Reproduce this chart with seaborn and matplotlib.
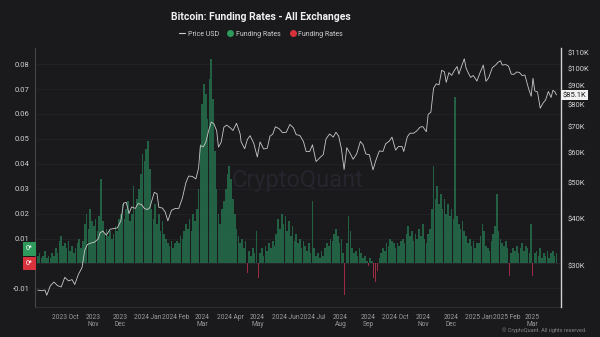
import numpy as np
import pandas as pd
import matplotlib
matplotlib.use("Agg")
import matplotlib.pyplot as plt
import matplotlib.transforms as mtransforms
from matplotlib.lines import Line2D
from matplotlib.ticker import NullLocator, FixedLocator
import seaborn as sns

# ---------------- data ----------------
title = "Bitcoin: Funding Rates - All Exchanges"

price_dates = [
    "2023-09-01", "2023-09-05", "2023-09-09", "2023-09-11", "2023-09-15", "2023-09-19", "2023-09-23", "2023-09-27",
    "2023-10-01", "2023-10-05", "2023-10-09", "2023-10-12", "2023-10-16", "2023-10-20", "2023-10-23", "2023-10-26",
    "2023-10-30", "2023-11-03", "2023-11-07", "2023-11-09", "2023-11-12", "2023-11-16", "2023-11-20", "2023-11-24",
    "2023-11-28", "2023-12-02", "2023-12-05", "2023-12-08", "2023-12-11", "2023-12-14", "2023-12-18", "2023-12-21",
    "2023-12-25", "2023-12-28", "2023-12-31", "2024-01-03", "2024-01-08", "2024-01-11", "2024-01-13", "2024-01-17",
    "2024-01-20", "2024-01-23", "2024-01-27", "2024-01-31", "2024-02-04", "2024-02-08", "2024-02-12", "2024-02-15",
    "2024-02-19", "2024-02-23", "2024-02-26", "2024-02-28", "2024-03-02", "2024-03-05", "2024-03-08", "2024-03-11",
    "2024-03-14", "2024-03-17", "2024-03-19", "2024-03-22", "2024-03-25", "2024-03-28", "2024-04-01", "2024-04-04",
    "2024-04-08", "2024-04-12", "2024-04-13", "2024-04-17", "2024-04-20", "2024-04-23", "2024-04-27", "2024-05-01",
    "2024-05-04", "2024-05-08", "2024-05-12", "2024-05-15", "2024-05-18", "2024-05-21", "2024-05-25", "2024-05-29",
    "2024-06-02", "2024-06-06", "2024-06-10", "2024-06-13", "2024-06-17", "2024-06-21", "2024-06-24", "2024-06-28",
    "2024-07-01", "2024-07-05", "2024-07-09", "2024-07-13", "2024-07-16", "2024-07-20", "2024-07-24", "2024-07-27",
    "2024-07-30", "2024-08-02", "2024-08-05", "2024-08-08", "2024-08-12", "2024-08-15", "2024-08-19", "2024-08-23",
    "2024-08-26", "2024-08-29", "2024-09-02", "2024-09-06", "2024-09-09", "2024-09-13", "2024-09-17", "2024-09-20",
    "2024-09-24", "2024-09-27", "2024-10-01", "2024-10-04", "2024-10-08", "2024-10-10", "2024-10-14", "2024-10-17",
    "2024-10-21", "2024-10-24", "2024-10-28", "2024-10-31", "2024-11-04", "2024-11-06", "2024-11-09", "2024-11-12",
    "2024-11-15", "2024-11-18", "2024-11-21", "2024-11-24", "2024-11-26", "2024-11-29", "2024-12-02", "2024-12-05",
    "2024-12-08", "2024-12-10", "2024-12-13", "2024-12-16", "2024-12-18", "2024-12-20", "2024-12-23", "2024-12-26",
    "2024-12-30", "2025-01-02", "2025-01-06", "2025-01-09", "2025-01-12", "2025-01-16", "2025-01-20", "2025-01-22",
    "2025-01-25", "2025-01-27", "2025-01-31", "2025-02-03", "2025-02-06", "2025-02-09", "2025-02-12", "2025-02-15",
    "2025-02-18", "2025-02-21", "2025-02-25", "2025-02-28", "2025-03-02", "2025-03-04", "2025-03-07", "2025-03-10",
    "2025-03-13", "2025-03-16", "2025-03-19", "2025-03-22", "2025-03-24", "2025-03-26", "2025-03-28",
]
price_k = [
    25.9, 25.8, 25.9, 25.1, 26.6, 27.2, 26.6, 26.4,
    28.0, 27.4, 27.6, 26.8, 28.5, 29.7, 33.0, 34.2,
    34.5, 34.7, 35.4, 36.7, 37.1, 36.2, 37.5, 37.7,
    37.8, 39.5, 44.0, 44.2, 41.3, 43.0, 42.6, 43.9,
    43.6, 42.6, 42.3, 42.8, 47.0, 46.6, 42.9, 42.7,
    41.7, 39.5, 42.1, 42.6, 42.6, 45.3, 49.9, 51.9,
    51.8, 51.0, 54.5, 62.5, 62.0, 63.8, 68.3, 72.1,
    71.4, 68.4, 61.9, 63.8, 69.9, 70.8, 69.7, 68.5,
    71.6, 67.1, 64.0, 61.3, 64.9, 66.4, 63.4, 58.3,
    63.9, 61.2, 61.5, 66.2, 67.0, 70.1, 69.3, 67.6,
    67.8, 71.1, 69.6, 66.8, 66.5, 64.1, 60.3, 60.3,
    62.8, 56.7, 58.0, 59.2, 65.1, 67.1, 65.8, 67.8,
    66.2, 61.4, 54.0, 61.7, 59.4, 57.5, 59.5, 64.1,
    62.8, 59.4, 59.1, 53.9, 57.0, 60.5, 60.3, 63.2,
    64.2, 65.8, 60.8, 62.1, 62.2, 60.3, 66.0, 67.4,
    67.4, 68.2, 69.9, 70.2, 68.0, 75.6, 76.6, 88.7,
    91.1, 90.5, 98.9, 98.0, 91.9, 97.5, 95.9, 98.8,
    101.2, 96.6, 101.4, 106.1, 100.2, 97.8, 94.7, 95.8,
    92.6, 96.9, 102.1, 92.5, 94.5, 100.5, 102.3, 103.7,
    104.8, 102.1, 102.4, 101.4, 96.6, 96.5, 97.9, 97.6,
    95.8, 96.1, 88.7, 84.4, 94.2, 87.2, 86.7, 78.5,
    80.9, 82.6, 86.9, 83.8, 87.5, 86.9, 85.1,
]

funding_start = "2023-09-01"   # one value every two days
funding_rates = [
    # 2023 Sep
    0.003, 0.004, 0.002, 0.003, 0.005, 0.002, 0.003, 0.002, 0.004, 0.003, 0.006, 0.004, 0.009, 0.011, 0.007,
    # 2023 Oct
    0.008, 0.006, 0.009, 0.005, 0.007, 0.004, 0.006, 0.008, 0.010, 0.006, 0.009, 0.016, 0.020, 0.014, 0.022, 0.017,
    # 2023 Nov
    0.015, 0.018, 0.013, 0.019, 0.034, 0.017, 0.012, 0.014, 0.011, 0.013, 0.010, 0.012, 0.015, 0.013, 0.018,
    # 2023 Dec
    0.020, 0.024, 0.018, 0.022, 0.025, 0.017, 0.020, 0.031, 0.022, 0.026, 0.030, 0.036, 0.044, 0.041, 0.046,
    # 2024 Jan
    0.049, 0.038, 0.022, 0.018, 0.024, 0.016, 0.020, 0.013, 0.017, 0.012, 0.010, 0.008, 0.007, 0.009, 0.006, 0.008,
    # 2024 Feb
    0.009, 0.008, 0.011, 0.010, 0.013, 0.016, 0.014, 0.018, 0.013, 0.020, 0.017, 0.022, 0.030, 0.048,
    # 2024 Mar
    0.064, 0.072, 0.068, 0.058, 0.074, 0.082, 0.066, 0.045, 0.030, 0.020, 0.016, 0.022, 0.025, 0.030, 0.036, 0.039,
    # 2024 Apr
    0.034, 0.026, 0.020, 0.014, 0.011, 0.008, 0.010, 0.006, 0.009, -0.004, 0.005, 0.003, 0.006, 0.004, 0.013,
    # 2024 May
    -0.006, 0.004, 0.006, 0.003, 0.007, 0.005, 0.008, 0.006, 0.009, 0.007, 0.012, 0.018, 0.014, 0.020, 0.016,
    # 2024 Jun
    0.019, 0.013, 0.017, 0.011, 0.015, 0.009, 0.012, 0.008, 0.010, 0.006, 0.009, 0.007, 0.005, 0.008, 0.004,
    # 2024 Jul
    0.025, 0.006, 0.003, 0.004, 0.002, 0.005, 0.003, 0.006, 0.008, 0.007, 0.010, 0.009, 0.012, 0.014, 0.011, 0.008,
    # 2024 Aug
    0.010, 0.004, -0.0125, 0.008, 0.019, 0.013, 0.006, 0.004, 0.005, 0.003, 0.006, 0.004, 0.002, 0.003, 0.001,
    # 2024 Sep
    -0.001, 0.002, 0.001, -0.006, -0.0075, -0.003, 0.002, 0.004, 0.006, 0.005, 0.008, 0.007, 0.010, 0.009, 0.008,
    # 2024 Oct
    0.006, 0.008, 0.007, 0.009, 0.010, 0.008, 0.012, 0.015, 0.011, 0.013, 0.009, 0.012, 0.010, 0.014, 0.011, 0.016,
    # 2024 Nov
    0.010, 0.008, 0.012, 0.014, 0.022, 0.039, 0.026, 0.031, 0.024, 0.028, 0.022, 0.026, 0.020, 0.024, 0.019,
    # 2024 Dec
    0.022, 0.018, 0.067, 0.019, 0.016, 0.014, 0.017, 0.013, 0.011, 0.008, 0.010, 0.007, 0.009, 0.006, 0.008,
    # 2025 Jan
    0.008, 0.011, 0.016, 0.013, 0.007, 0.006, 0.005, 0.009, 0.012, 0.015, 0.028, 0.013, 0.010, 0.008, 0.007, 0.009,
    # 2025 Feb
    0.006, -0.005, 0.004, 0.006, 0.005, 0.007, 0.004, 0.006, 0.008, 0.005, 0.007, 0.006, 0.004, 0.016,
    # 2025 Mar
    -0.005, 0.004, 0.005, 0.003, 0.006, 0.002, 0.004, 0.003, 0.005, 0.002, 0.004, 0.005, 0.003, 0.004,
]

left_ticks = [-0.01, 0.01, 0.02, 0.03, 0.04, 0.05, 0.06, 0.07, 0.08]
left_tick_labels = ["-0.01", "0.01", "0.02", "0.03", "0.04", "0.05", "0.06", "0.07", "0.08"]
right_ticks_k = [30, 40, 50, 60, 70, 80, 90, 100, 110]
right_tick_labels = ["$30K", "$40K", "$50K", "$60K", "$70K", "$80K", "$90K", "$100K", "$110K"]
x_tick_dates = ["2023-10-01", "2023-11-01", "2023-12-01", "2024-01-01", "2024-02-01", "2024-03-01",
                "2024-04-01", "2024-05-01", "2024-06-01", "2024-07-01", "2024-08-01", "2024-09-01",
                "2024-10-01", "2024-11-01", "2024-12-01", "2025-01-01", "2025-02-01", "2025-03-01"]
x_tick_labels = ["2023 Oct", "2023\nNov", "2023\nDec", "2024 Jan", "2024 Feb", "2024\nMar",
                 "2024 Apr", "2024\nMay", "2024 Jun", "2024 Jul", "2024\nAug", "2024\nSep",
                 "2024 Oct", "2024\nNov", "2024\nDec", "2025 Jan", "2025 Feb", "2025\nMar"]
last_price_label = "$85.1K"

# ---------------- style ----------------
BG = "#1a1a1c"
GREEN = "#256a49"
RED = "#9c2b43"
sns.set_theme(style="dark", rc={"axes.facecolor": BG, "figure.facecolor": BG})
plt.rcParams["font.family"] = ["Roboto", "DejaVu Sans"]

fig = plt.figure(figsize=(6, 3.37), dpi=100, facecolor=BG)
ax = fig.add_axes([35 / 600, 1 - 307 / 337, (561 - 35) / 600, (307 - 48) / 337])
ax.set_facecolor(BG)

fund = pd.DataFrame({
    "date": pd.date_range(funding_start, periods=len(funding_rates), freq="2D"),
    "rate": funding_rates,
})
pos = fund[fund.rate >= 0]
neg = fund[fund.rate < 0]
ax.bar(pos.date, pos.rate, width=1.8, color=GREEN, linewidth=0, alpha=0.9, zorder=2)
ax.bar(neg.date, neg.rate, width=1.1, color=RED, linewidth=0, zorder=2)
ax.set_ylim(-0.0175, 0.0865)
ax.set_xlim(pd.Timestamp("2023-08-29"), pd.Timestamp("2025-04-02"))

ax.yaxis.set_major_locator(FixedLocator(left_ticks))
ax.set_yticklabels(left_tick_labels)
ax.tick_params(axis="y", length=0, pad=4, labelsize=5.5, labelcolor="#cfcfcf")
ax.set_xticks(pd.to_datetime(x_tick_dates))
ax.set_xticklabels(x_tick_labels, linespacing=1.0)
ax.tick_params(axis="x", length=2, width=0.5, color="#3a3a3e", pad=3, labelsize=4.8, labelcolor="#9a9a9a")
ax.grid(False)
for t in left_ticks + [0.0]:
    ax.axhline(t, color="#222227", lw=0.6, zorder=0)
ax.axhline(0, color="#2a2a2e", lw=0.5, zorder=1)
for s in ["top", "right"]:
    ax.spines[s].set_visible(False)
ax.spines["left"].set_color("#46464a")
ax.spines["left"].set_linewidth(0.8)
ax.spines["bottom"].set_color("#333337")
ax.spines["bottom"].set_linewidth(0.6)
ax.set_xlabel("")
ax.set_ylabel("")

ax.text(0.5, 0.49, "CryptoQuant", transform=ax.transAxes, ha="center", va="center",
        fontsize=17, color="#25252d", zorder=0)

# price line on log right axis
ax2 = ax.twinx()
price_df = pd.DataFrame({"date": pd.to_datetime(price_dates), "price": np.array(price_k) * 1000})
sns.lineplot(data=price_df, x="date", y="price", ax=ax2, color="#c9c9c9", linewidth=0.6)
ax2.set_yscale("log")
ax2.set_ylim(23360, 113300)
ax2.yaxis.set_major_locator(FixedLocator([v * 1000 for v in right_ticks_k]))
ax2.yaxis.set_minor_locator(NullLocator())
ax2.set_yticklabels(right_tick_labels)
ax2.tick_params(axis="y", length=0, pad=5, labelsize=5.5, labelcolor="#d0d0d0")
ax2.set_xlabel("")
ax2.set_ylabel("")
ax2.grid(False)
for s in ["top", "left", "bottom"]:
    ax2.spines[s].set_visible(False)
ax2.spines["right"].set_color("#d0d0d0")
ax2.spines["right"].set_linewidth(1.0)
ax2.set_xlim(pd.Timestamp("2023-08-29"), pd.Timestamp("2025-04-02"))

# current value tags
tr2 = mtransforms.blended_transform_factory(ax2.transAxes, ax2.transData)
ax2.text(1.003, price_k[-1] * 1000, last_price_label, transform=tr2, ha="left", va="center",
         fontsize=5.5, color="#1a1a1c",
         bbox=dict(boxstyle="square,pad=0.25", fc="#f2f2f2", ec="none"), zorder=5)
tr1 = mtransforms.blended_transform_factory(ax.transAxes, ax.transData)
ax.text(-0.004, 0.0058, "0*", transform=tr1, ha="right", va="center", fontsize=5, color="white",
        bbox=dict(boxstyle="square,pad=0.45", fc="#2e9a5c", ec="none"), clip_on=False)
ax.text(-0.004, 0.0, "0*", transform=tr1, ha="right", va="center", fontsize=5, color="white",
        bbox=dict(boxstyle="square,pad=0.45", fc="#d8323c", ec="none"), clip_on=False)

# title & legend
fig.text(0.435, 1 - 17 / 337, title, ha="center", va="center", fontsize=7.5,
         fontweight="bold", color="#f0f0f0")
handles = [
    Line2D([0], [0], color="#cfcfcf", lw=0.8),
    Line2D([0], [0], marker="o", ls="", color="#2e9a5c", ms=4),
    Line2D([0], [0], marker="o", ls="", color="#d8323c", ms=4),
]
fig.legend(handles, ["Price USD", "Funding Rates", "Funding Rates"], loc="center",
           bbox_to_anchor=(0.435, 1 - 34 / 337), ncol=3, frameon=False, fontsize=5,
           labelcolor="#cfcfcf", handlelength=0.9, handletextpad=0.4, columnspacing=1.2)

fig.text(586 / 600, 1 - 330 / 337, "© CryptoQuant. All rights reserved.", ha="right", va="center",
         fontsize=4.0, color="#858585")

fig.savefig("out.png", dpi=100, facecolor=BG)
